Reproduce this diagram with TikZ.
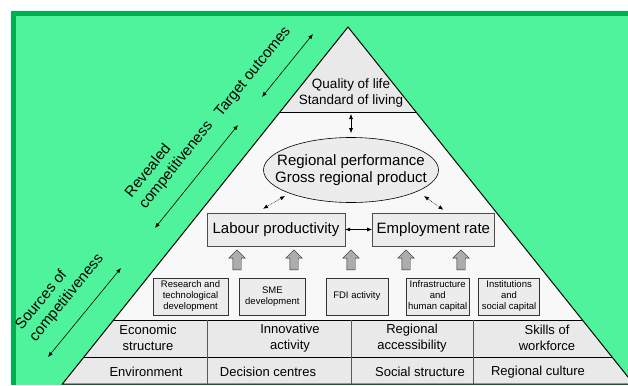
\documentclass[tikz,border=0pt]{standalone}
\usepackage{fontspec}
\setmainfont{Liberation Sans}
\usepackage{tikz}
\usetikzlibrary{arrows.meta,positioning,shapes.geometric,shapes.arrows}

\definecolor{bggreen}{RGB}{78,243,155}
\definecolor{edgegreen}{RGB}{0,176,80}
\definecolor{layergrey}{RGB}{233,233,233}
\definecolor{midgrey}{RGB}{248,248,248}
\definecolor{boxgrey}{RGB}{236,236,236}

\begin{document}
\begin{tikzpicture}[x=1pt,y=-1pt,
    lbl/.style={font=\fontsize{13}{16}\selectfont,align=center,inner sep=0pt},
    big/.style={font=\fontsize{15}{17}\selectfont,align=center},
    mainbox/.style={draw=gray!60!black,fill=boxgrey,minimum height=33pt,inner sep=2pt,big},
    srcbox/.style={draw=gray!40!black,fill=boxgrey,minimum height=37pt,inner sep=1pt,
                   align=center,font=\fontsize{9.5}{11}\selectfont},
    uparr/.style={single arrow,draw=gray!30!black,fill=gray!65,rotate=90,inner sep=4pt,
                  minimum height=20pt,single arrow head extend=4pt},
    dbl/.style={{Latex[length=5pt,width=4pt]}-{Latex[length=5pt,width=4pt]},line width=0.6pt},
    dotarr/.style={dbl,densely dotted},
    side/.style={font=\fontsize{15}{18}\selectfont,align=left,sloped,anchor=south,
                 inner xsep=0pt,inner ysep=15.5pt},
  ]
  \useasboundingbox (0,0) rectangle (628,385);
  \clip (0,0) rectangle (628,385);

  % Background
  \fill[white] (0,0) rectangle (628,385);
  \fill[bggreen] (11,11) rectangle (628,385);
  \fill[edgegreen] (11,11) rectangle (16,385);
  \fill[edgegreen] (11,11) rectangle (628,16);

  % Pyramid layers
  \fill[layergrey] (348,27) -- (416,112) -- (280,112) -- cycle;
  \fill[midgrey] (280,112) -- (416,112) -- (582.4,320) -- (113.6,320) -- cycle;
  \fill[layergrey] (113.6,320) -- (582.4,320) -- (633.6,384) -- (62.4,384) -- cycle;
  \draw[line width=1pt] (62.4,384) -- (348,27) -- (633.6,384) -- cycle;
  \draw[line width=0.8pt] (280,112) -- (416,112);
  \draw[line width=0.8pt] (113.6,320) -- (582.4,320);
  \draw[line width=0.8pt] (84,357) -- (612,357);
  \foreach \x in {207,351,473}
    \draw[line width=0.6pt,gray!70!black] (\x,320) -- (\x,384);

  % Top of the pyramid
  \node[lbl,font=\fontsize{13.5}{16}\selectfont] (qol) at (351,93) {Quality of life\\Standard of living};
  \coordinate (sep) at (351,112);
  \node[draw,ellipse,fill=boxgrey,line width=0.6pt,minimum width=175pt,minimum height=65pt] (perf) at (351,170) {};
  \node[big,inner sep=0pt] at (perf) {Regional performance\\Gross regional product};
  \draw[dbl,shorten <=2pt,shorten >=4pt] (sep) -- (perf.north);

  % Productivity and employment
  \node[mainbox,minimum width=138pt] (lab) at (276,229.5) {Labour productivity};
  \node[mainbox,minimum width=122pt,right=27pt of lab] (emp) {Employment rate};
  \draw[dbl] (lab) -- (emp);
  \draw[dotarr] ([xshift=-13pt,yshift=4pt]lab.north) -- ([xshift=-66pt,yshift=-26pt]perf.center);
  \draw[dotarr] ([xshift=10pt,yshift=3pt]emp.north) -- ([xshift=73pt,yshift=-26pt]perf.center);

  % Factors
  \foreach \x [count=\i] in {237,294,351,406,461}
    \node[uparr] (up\i) at (\x,262) {};
  \node[srcbox,minimum width=75pt] (rtd) at (190.5,296.5) {Research and\\technological\\development};
  \node[srcbox,minimum width=66pt,right=11pt of rtd] (sme) {SME\\development};
  \node[srcbox,minimum width=62pt,right=20pt of sme] (fdi) {FDI activity};
  \node[srcbox,minimum width=63pt,right=18pt of fdi] (infra) {Infrastructure\\and\\human capital};
  \node[srcbox,minimum width=61pt,right=9pt of infra] (inst) {Institutions\\and\\social capital};

  % Base rows
  \node[lbl] (econ) at (148,338) {Economic\\structure};
  \node[lbl] (innov) at (290,338) {Innovative\\activity};
  \node[lbl] (access) at (412,338) {Regional\\accessibility};
  \node[lbl] (skills) at (547,338) {Skills of\\workforce};
  \node[lbl] (env) at (146,372) {Environment};
  \node[lbl] (dec) at (268,372) {Decision centres};
  \node[lbl] (soc) at (420,372) {Social structure};
  \node[lbl] (cult) at (538,372) {Regional culture};

  % Side labels
  \coordinate (t1) at (262,97);
  \coordinate (t2) at (313,34);
  \coordinate (r1) at (155,228);
  \coordinate (r2) at (238,125);
  \coordinate (s1) at (48,357);
  \coordinate (s2) at (121,268);
  \draw[dbl] (t1) -- node[side,pos=0.17]{Target outcomes} (t2);
  \draw[dbl] (r1) -- node[side,pos=0.47]{Revealed\\competitiveness} (r2);
  \draw[dbl] (s1) -- node[side,pos=0.5]{Sources of\\competitiveness} (s2);
\end{tikzpicture}
\end{document}
